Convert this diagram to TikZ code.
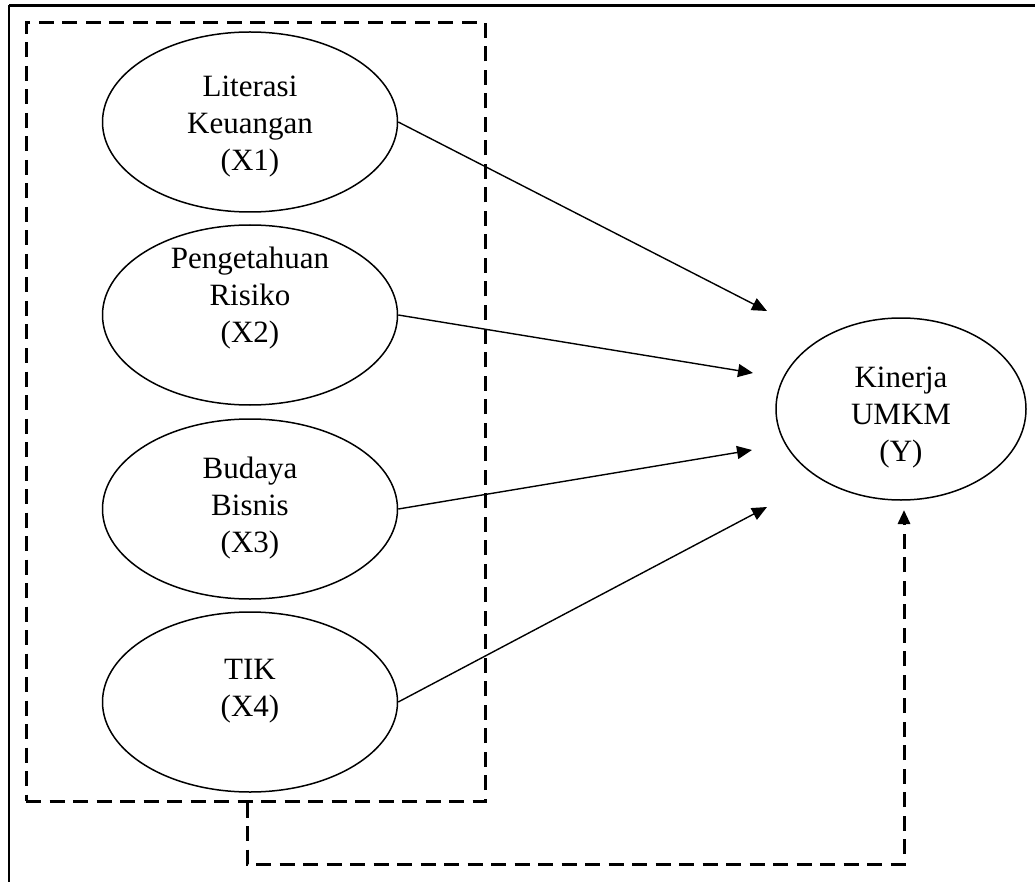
\documentclass[tikz,border=0pt]{standalone}
\usepackage{fontspec}
\setmainfont{Liberation Serif}
\usetikzlibrary{arrows.meta,shapes.geometric}
\begin{document}
\begin{tikzpicture}[x=1pt,y=-1pt,
  var/.style={draw,line width=1.5pt,ellipse,minimum width=295pt,minimum height=180pt,inner sep=0pt},
  yvar/.style={draw,line width=1.5pt,ellipse,minimum width=250pt,minimum height=182pt,inner sep=0pt},
  lbl/.style={align=center,font=\fontsize{31}{37}\selectfont,inner sep=0pt},
  arr/.style={line width=1.4pt,-{Triangle[length=15pt,width=13pt]}},
  dsh/.style={line width=3pt,dash pattern=on 15pt off 8.5pt},
  dsharr/.style={dsh,-{Triangle[length=14pt,width=12pt]}}]
\useasboundingbox (0,0) rectangle (1035,882);
% outer frame (top and left only)
\draw[line width=3pt] (9,6) -- (1035,6);
\draw[line width=2pt] (9,5) -- (9,882);
% dashed group box
\node[dsh,draw,rectangle,minimum width=459pt,minimum height=778pt,inner sep=0pt] (grp) at (255.5,412) {};
% variables
\node[var] (x1) at (250,122) {};
\node[var] (x2) at (250,315) {};
\node[var] (x3) at (250,509) {};
\node[var] (x4) at (250,702) {};
\node[yvar] (yk) at (901,409) {};
\node[lbl] (t1) at (250,127) {Literasi\\Keuangan\\(X1)};
\node[lbl] (t2) at (250,298) {Pengetahuan\\Risiko\\(X2)};
\node[lbl] (t3) at (250,508) {Budaya\\Bisnis\\(X3)};
\node[lbl] (t4) at (250,691) {TIK\\(X4)};
\node[lbl] (ty) at (901,418) {Kinerja\\UMKM\\(Y)};
% arrow tips
\coordinate (a1) at (767,311);
\coordinate (a2) at (753,373);
\coordinate (a3) at (752,450);
\coordinate (a4) at (767,507);
\draw[arr] (x1.east) -- (a1);
\draw[arr] (x2.east) -- (a2);
\draw[arr] (x3.east) -- (a3);
\draw[arr] (x4.east) -- (a4);
% dashed moderating connector
\coordinate (b0) at (247,864);
\coordinate (ay) at (904,510);
\draw[dsharr] (grp.south -| b0) -- (b0) -| (ay);
\end{tikzpicture}
\end{document}
